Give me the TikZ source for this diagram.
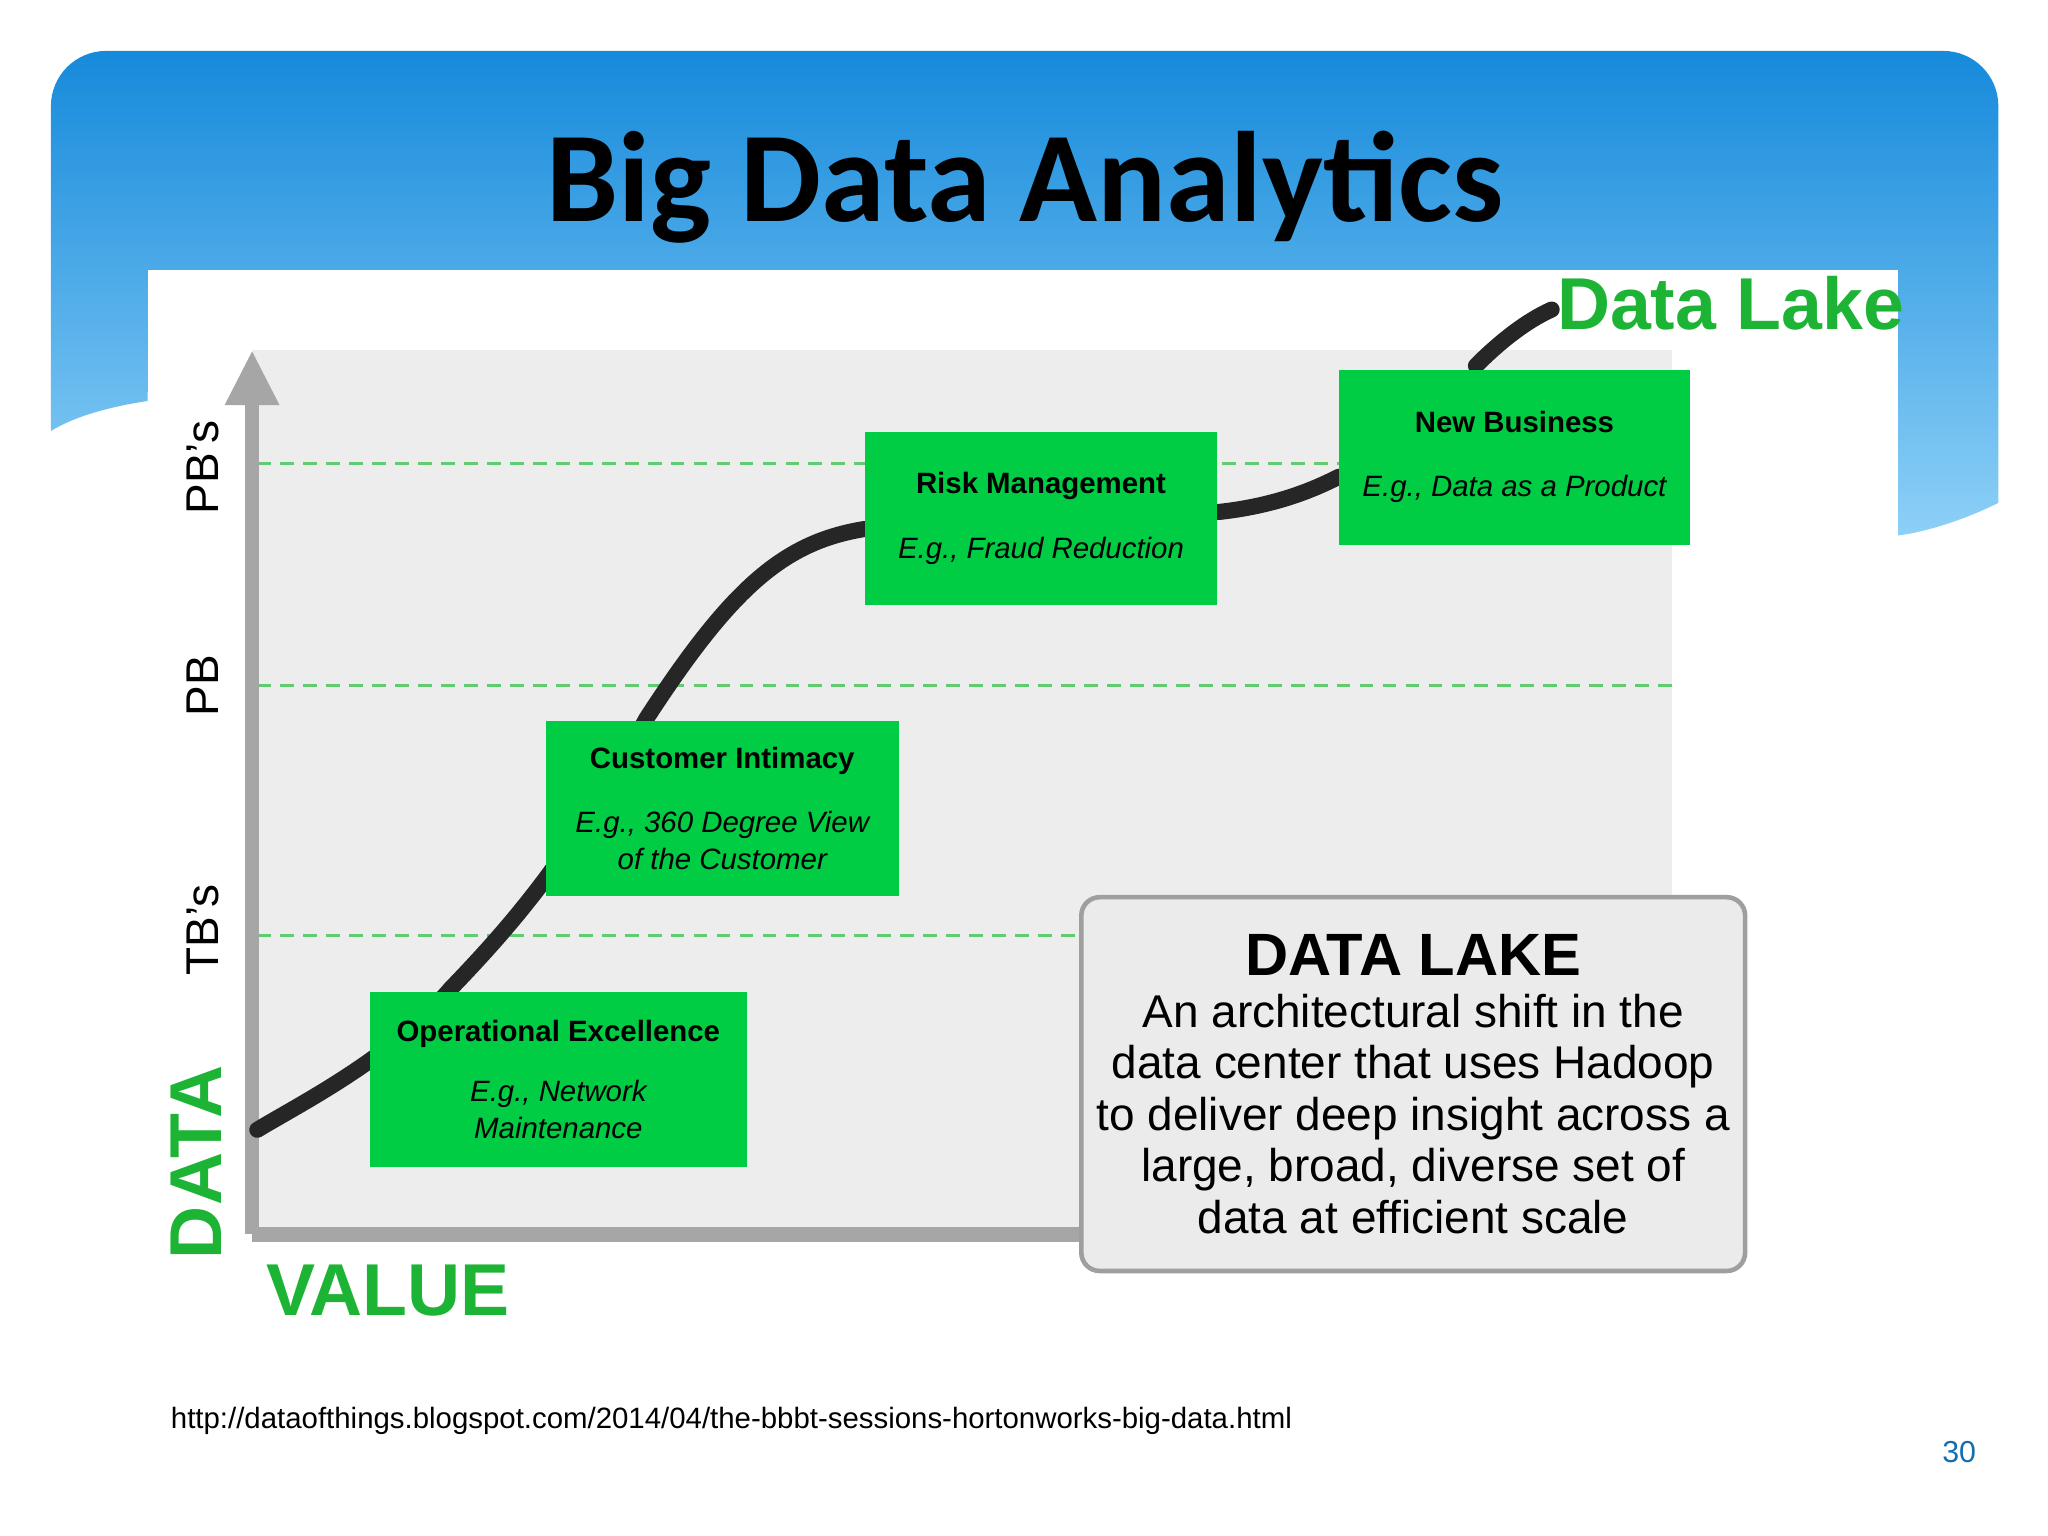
\documentclass[tikz,border=0pt]{standalone}
\usepackage{fontspec}
\setmainfont{Liberation Sans}
\newfontfamily\titlefont{Carlito}
\usetikzlibrary{arrows.meta}
\definecolor{gbox}{HTML}{00CC44}
\definecolor{gtxt}{HTML}{1DB435}
\definecolor{btop}{HTML}{168ADB}
\definecolor{bbot}{HTML}{8DD0F7}
\tikzset{
 gb/.style={fill=gbox,draw=none,minimum width=#1,align=center,inner sep=0pt,font=\fontsize{6.4}{8}\selectfont},
 dl/.style={dashed,line width=0.6pt,dash pattern=on 3pt off 2pt,draw=gtxt!70},
 ax/.style={line width=3.2pt,draw=gray!70}
}
\begin{document}
\begin{tikzpicture}[x=0.01cm,y=-0.01cm]
\useasboundingbox (0,0) rectangle (1568,1176);
\fill[white] (0,0) rectangle (1568,1176);
% header
\shade[top color=btop,bottom color=bbot,rounded corners=12pt]
 (39,330) -- (39,39) -- (1530,39) -- (1530,390) [sharp corners] -- (1530,385) .. controls (1500,400) and (1470,408) .. (1453,410) -- (1453,300) -- (113,300) -- (113,307) .. controls (80,312) and (55,320) .. (39,330) -- cycle;
\node[font=\titlefont\bfseries\fontsize{28}{32}\selectfont] (title) at (785,143) {Big Data Analytics};
% chart image
\fill[white] (113,207) rectangle (1453,1045);
\fill[gray!14] (193,268) rectangle (1280,945);
\draw[dl] (197,355) -- (1280,355);
\draw[dl] (197,525) -- (1280,525);
\draw[dl] (197,716) -- (1280,716);
\coordinate (o) at (193,945);
\coordinate (ytop) at (193,268);
\coordinate (xend) at (840,945);
\draw[ax,-{Triangle[length=12pt,width=11pt]}] (o) -- (ytop);
\draw[ax] (o) -- (xend);
\node[rotate=90,font=\fontsize{10}{12}\selectfont] (pbs) at (155,358) {PB's};
\node[rotate=90,font=\fontsize{10}{12}\selectfont] (pb) at (155,525) {PB};
\node[rotate=90,font=\fontsize{10}{12}\selectfont] (tbs) at (155,712) {TB's};
\node[rotate=90,font=\bfseries\fontsize{16}{18}\selectfont,text=gtxt] (data) at (150,890) {DATA};
\node[font=\bfseries\fontsize{16}{18}\selectfont,text=gtxt] (value) at (297,988) {VALUE};
\node[font=\bfseries\fontsize{16}{18}\selectfont,text=gtxt] (dlk) at (1325,232) {Data Lake};
% curve
\draw[line width=3.5pt,color=black!85,line cap=round]
 (197,865) .. controls (230,845) and (300,810) .. (345,757)
 .. controls (400,700) and (440,650) .. (495,550)
 .. controls (560,450) and (600,415) .. (662,405)
 (933,392) .. controls (970,388) and (1000,378) .. (1025,365)
 (1130,280) .. controls (1150,260) and (1170,245) .. (1188,237);
% boxes
\node[gb=2.89cm,minimum height=1.34cm] (op) at (427.5,826.5) {\textbf{Operational Excellence}\\[5pt] \itshape E.g., Network\\ \itshape Maintenance};
\node[gb=2.70cm,minimum height=1.34cm] (ci) at (553,619) {\textbf{Customer Intimacy}\\[6pt] \itshape E.g., 360 Degree View\\ \itshape of the Customer};
\node[gb=2.70cm,minimum height=1.32cm] (rm) at (797,397) {\textbf{Risk Management}\\[6pt] \itshape E.g., Fraud Reduction};
\node[gb=2.69cm,minimum height=1.34cm] (nb) at (1159.5,350) {\textbf{New Business}\\[6pt] \itshape E.g., Data as a Product};
\node[draw=gray!75,fill=gray!16,rounded corners=4pt,line width=1pt,minimum width=4.92cm,minimum height=2.86cm,align=center,font=\fontsize{10}{11.2}\selectfont] (lake) at (1082,830)
 {{\bfseries\fontsize{13}{15}\selectfont DATA LAKE}\\ An architectural shift in the\\ data center that uses Hadoop\\ to deliver deep insight across a\\ large, broad, diverse set of\\ data at efficient scale};
\node[font=\fontsize{6.4}{8}\selectfont] (url) at (560,1088) {http://dataofthings.blogspot.com/2014/04/the-bbbt-sessions-hortonworks-big-data.html};
\node[font=\fontsize{6.6}{8}\selectfont,text=btop!80!black] (pg) at (1500,1112) {30};
\end{tikzpicture}
\end{document}
